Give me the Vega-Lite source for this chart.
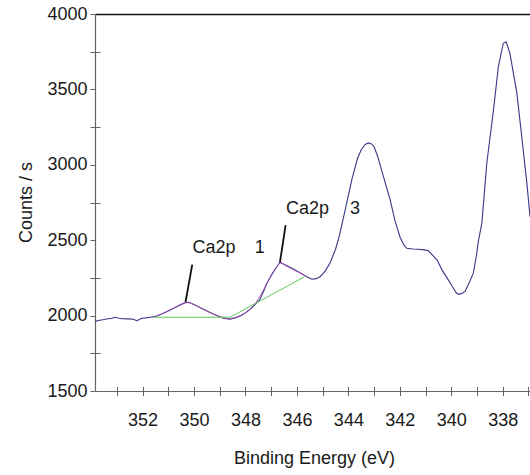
{
  "$schema": "https://vega.github.io/schema/vega-lite/v6.json",
  "autosize": "none",
  "width": 435,
  "height": 377,
  "padding": {"left": 95, "top": 14, "right": 0, "bottom": 84},
  "background": "white",
  "config": {
    "view": {"stroke": null},
    "font": "Liberation Sans",
    "axis": {"grid": false, "labelFont": "Liberation Sans", "titleFont": "Liberation Sans", "titleFontWeight": "normal", "labelColor": "#1a1a1a", "titleColor": "#1a1a1a"}
  },
  "datasets": {
    "spectrum": [
      {"be": 353.85, "cps": 1960}, {"be": 353.72, "cps": 1968}, {"be": 353.55, "cps": 1972},
      {"be": 353.40, "cps": 1978}, {"be": 353.20, "cps": 1982}, {"be": 353.07, "cps": 1989},
      {"be": 352.95, "cps": 1984}, {"be": 352.80, "cps": 1979}, {"be": 352.55, "cps": 1978},
      {"be": 352.36, "cps": 1976}, {"be": 352.23, "cps": 1966}, {"be": 352.12, "cps": 1974},
      {"be": 352.03, "cps": 1982}, {"be": 351.85, "cps": 1985}, {"be": 351.71, "cps": 1989},
      {"be": 351.52, "cps": 1993}, {"be": 351.30, "cps": 2008}, {"be": 351.06, "cps": 2026},
      {"be": 350.85, "cps": 2043}, {"be": 350.67, "cps": 2059}, {"be": 350.50, "cps": 2074},
      {"be": 350.35, "cps": 2086}, {"be": 350.20, "cps": 2088}, {"be": 350.00, "cps": 2073},
      {"be": 349.77, "cps": 2053}, {"be": 349.50, "cps": 2031}, {"be": 349.25, "cps": 2011},
      {"be": 349.05, "cps": 1996}, {"be": 348.86, "cps": 1982}, {"be": 348.60, "cps": 1976},
      {"be": 348.40, "cps": 1985}, {"be": 348.21, "cps": 1997}, {"be": 348.00, "cps": 2018},
      {"be": 347.82, "cps": 2042}, {"be": 347.65, "cps": 2070}, {"be": 347.45, "cps": 2104},
      {"be": 347.30, "cps": 2160}, {"be": 347.17, "cps": 2214}, {"be": 347.00, "cps": 2265},
      {"be": 346.85, "cps": 2307}, {"be": 346.66, "cps": 2354}, {"be": 346.45, "cps": 2335},
      {"be": 346.27, "cps": 2320}, {"be": 346.05, "cps": 2300}, {"be": 345.88, "cps": 2285},
      {"be": 345.62, "cps": 2258}, {"be": 345.42, "cps": 2241}, {"be": 345.25, "cps": 2245},
      {"be": 345.10, "cps": 2258}, {"be": 344.90, "cps": 2295}, {"be": 344.71, "cps": 2350},
      {"be": 344.50, "cps": 2440}, {"be": 344.35, "cps": 2530}, {"be": 344.10, "cps": 2720},
      {"be": 343.87, "cps": 2899}, {"be": 343.65, "cps": 3040}, {"be": 343.50, "cps": 3100},
      {"be": 343.35, "cps": 3135}, {"be": 343.22, "cps": 3145}, {"be": 343.10, "cps": 3138},
      {"be": 343.00, "cps": 3120}, {"be": 342.85, "cps": 3050}, {"be": 342.75, "cps": 2990},
      {"be": 342.55, "cps": 2870}, {"be": 342.38, "cps": 2770}, {"be": 342.19, "cps": 2630},
      {"be": 341.99, "cps": 2520}, {"be": 341.85, "cps": 2470}, {"be": 341.73, "cps": 2446},
      {"be": 341.50, "cps": 2442}, {"be": 341.30, "cps": 2440}, {"be": 341.05, "cps": 2436},
      {"be": 340.89, "cps": 2430}, {"be": 340.75, "cps": 2405}, {"be": 340.55, "cps": 2368},
      {"be": 340.35, "cps": 2300}, {"be": 340.11, "cps": 2235}, {"be": 339.95, "cps": 2190},
      {"be": 339.80, "cps": 2150}, {"be": 339.70, "cps": 2141}, {"be": 339.55, "cps": 2150},
      {"be": 339.46, "cps": 2162}, {"be": 339.30, "cps": 2220}, {"be": 339.14, "cps": 2283},
      {"be": 339.02, "cps": 2400}, {"be": 338.95, "cps": 2490}, {"be": 338.81, "cps": 2615},
      {"be": 338.62, "cps": 3010}, {"be": 338.36, "cps": 3363}, {"be": 338.17, "cps": 3651},
      {"be": 337.98, "cps": 3806}, {"be": 337.87, "cps": 3816}, {"be": 337.72, "cps": 3739},
      {"be": 337.45, "cps": 3474}, {"be": 337.26, "cps": 3186}, {"be": 337.06, "cps": 2877},
      {"be": 336.94, "cps": 2656}
    ],
    "envelope": [
      {"be": 351.55, "cps": 1993}, {"be": 351.30, "cps": 2008}, {"be": 351.06, "cps": 2028},
      {"be": 350.80, "cps": 2050}, {"be": 350.55, "cps": 2072}, {"be": 350.35, "cps": 2086},
      {"be": 350.20, "cps": 2086}, {"be": 350.00, "cps": 2072}, {"be": 349.77, "cps": 2052},
      {"be": 349.50, "cps": 2030}, {"be": 349.25, "cps": 2010}, {"be": 349.00, "cps": 1994},
      {"be": 348.80, "cps": 1983}, {"be": 348.60, "cps": 1980}, {"be": 348.40, "cps": 1987},
      {"be": 348.20, "cps": 2000}, {"be": 348.00, "cps": 2020}, {"be": 347.82, "cps": 2044},
      {"be": 347.60, "cps": 2085}, {"be": 347.40, "cps": 2140}, {"be": 347.17, "cps": 2212},
      {"be": 347.00, "cps": 2268}, {"be": 346.85, "cps": 2310}, {"be": 346.70, "cps": 2345},
      {"be": 346.60, "cps": 2350}, {"be": 346.45, "cps": 2332}, {"be": 346.27, "cps": 2316},
      {"be": 346.05, "cps": 2296}, {"be": 345.88, "cps": 2282}, {"be": 345.70, "cps": 2266},
      {"be": 345.60, "cps": 2259}
    ],
    "background": [
      {"be": 351.55, "cps": 1989}, {"be": 348.60, "cps": 1989}, {"be": 345.70, "cps": 2258}
    ],
    "pointers": [
      {"be": 350.33, "cps": 2090, "be2": 350.07, "cps2": 2338},
      {"be": 346.66, "cps": 2354, "be2": 346.44, "cps2": 2600}
    ],
    "labels": [
      {"be": 349.22, "cps": 2412, "text": "Ca2p"},
      {"be": 347.45, "cps": 2412, "text": "1"},
      {"be": 345.59, "cps": 2672, "text": "Ca2p"},
      {"be": 343.74, "cps": 2672, "text": "3"}
    ]
  },
  "resolve": {"axis": {"x": "independent", "y": "independent"}},
  "layer": [
    {
      "data": {"name": "spectrum"},
      "mark": {"type": "line", "color": "#38388a", "strokeWidth": 1.1, "clip": true},
      "encoding": {
        "x": {
          "field": "be", "type": "quantitative",
          "scale": {"domain": [336.94, 353.85], "reverse": true, "nice": false, "zero": false},
          "axis": {
            "orient": "bottom", "offset": -4.5, "domain": false,
            "values": [337, 338, 339, 340, 341, 342, 343, 344, 345, 346, 347, 348, 349, 350, 351, 352, 353],
            "labelExpr": "datum.value % 2 == 0 ? datum.label : ''",
            "tickSize": 9, "tickColor": "#666666", "tickWidth": 1,
            "labelFontSize": 18, "labelPadding": 16, "labelFlush": false, "labelOverlap": false,
            "title": null
          }
        },
        "y": {
          "field": "cps", "type": "quantitative",
          "scale": {"domain": [1500, 4000], "nice": false, "zero": false},
          "axis": {
            "orient": "left", "values": [1500, 2000, 2500, 3000, 3500, 4000], "format": "d",
            "domainColor": "#666666", "domainWidth": 1.2,
            "tickSize": 5, "tickColor": "#666666", "tickWidth": 1,
            "labelFontSize": 18, "labelPadding": 3, "labelBaseline": "middle", "labelFlush": false,
            "title": "Counts / s", "titleFontSize": 18,
            "titleX": -69, "titleY": 188, "titleAngle": 270, "titleAlign": "center", "titleBaseline": "middle"
          }
        }
      }
    },
    {
      "data": {"name": "envelope"},
      "mark": {"type": "line", "color": "#b050b0", "strokeWidth": 1, "opacity": 0.85},
      "encoding": {
        "x": {
          "field": "be", "type": "quantitative",
          "axis": {
            "orient": "bottom", "domain": true, "domainColor": "#666666", "domainWidth": 1.2,
            "ticks": false, "labels": false,
            "title": "Binding Energy (eV)", "titleFontSize": 18,
            "titleX": 219, "titleY": 72, "titleAlign": "center", "titleBaseline": "alphabetic"
          }
        },
        "y": {
          "field": "cps", "type": "quantitative",
          "axis": {
            "orient": "left", "offset": -5, "domain": false, "labels": false,
            "values": [1750, 2250, 2750, 3250, 3750],
            "tickSize": 10, "tickColor": "#666666", "tickWidth": 1,
            "title": null
          }
        }
      }
    },
    {
      "data": {"name": "background"},
      "mark": {"type": "line", "color": "#5cc85c", "strokeWidth": 1},
      "encoding": {
        "x": {
          "field": "be", "type": "quantitative",
          "axis": {"orient": "top", "domain": true, "domainColor": "#111111", "domainWidth": 1.3, "ticks": false, "labels": false, "title": null}
        },
        "y": {"field": "cps", "type": "quantitative", "axis": null}
      }
    },
    {
      "data": {"name": "pointers"},
      "mark": {"type": "rule", "color": "#111111", "strokeWidth": 1.8},
      "encoding": {
        "x": {"field": "be", "type": "quantitative", "axis": null},
        "x2": {"field": "be2"},
        "y": {"field": "cps", "type": "quantitative", "axis": null},
        "y2": {"field": "cps2"}
      }
    },
    {
      "data": {"name": "labels"},
      "mark": {"type": "text", "fontSize": 18, "font": "Liberation Sans", "color": "#1a1a1a", "align": "center", "baseline": "alphabetic"},
      "encoding": {
        "x": {"field": "be", "type": "quantitative", "axis": null},
        "y": {"field": "cps", "type": "quantitative", "axis": null},
        "text": {"field": "text"}
      }
    }
  ]
}
